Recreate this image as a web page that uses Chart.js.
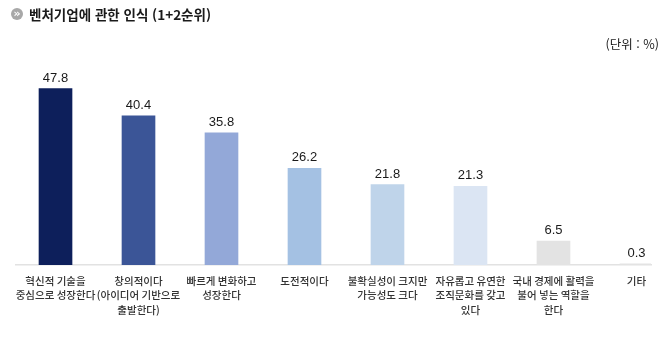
<!DOCTYPE html>
<html lang="ko">
<head>
<meta charset="utf-8">
<title>벤처기업에 관한 인식</title>
<script src="https://cdn.jsdelivr.net/npm/chart.js@4.4.1/dist/chart.umd.min.js"></script>
<style>
  html, body { margin: 0; padding: 0; background: #fff; }
  #wrap { position: relative; width: 670px; height: 337px; overflow: hidden; }
  #title {
    position: absolute; left: 11px; top: 4px;
    font: bold 13.5px "Noto Sans CJK KR", "Liberation Sans", sans-serif;
    color: #1a1a1a; display: flex; align-items: center; white-space: nowrap;
  }
  #title .icon {
    display: inline-block; width: 12px; height: 12px; border-radius: 50%;
    background: #a8a8a8; color: #fff; font: bold 11px "DejaVu Sans", sans-serif;
    line-height: 11px; text-align: center; margin-right: 6px;
  }
  #unit {
    position: absolute; right: 11px; top: 34px;
    font: 12.5px "Noto Sans CJK KR", "Liberation Sans", sans-serif; color: #1a1a1a;
  }
  canvas { position: absolute; left: 0; top: 0; }
</style>
</head>
<body>
<div id="wrap">
  <canvas id="perceptionChart" width="670" height="337"></canvas>
  <div id="title"><span class="icon">»</span>벤처기업에 관한 인식 (1+2순위)</div>
  <div id="unit">(단위 : %)</div>
</div>
<script>
// categories (multi-line labels) and values in %
const categories = [
    ['혁신적 기술을', '중심으로 성장한다'],
    ['창의적이다', '(아이디어 기반으로', '출발한다)'],
    ['빠르게 변화하고', '성장한다'],
    ['도전적이다'],
    ['불확실성이 크지만', '가능성도 크다'],
    ['자유롭고 유연한', '조직문화를 갖고', '있다'],
    ['국내 경제에 활력을', '불어 넣는 역할을', '한다'],
    ['기타']
];
const values = [47.8, 40.4, 35.8, 26.2, 21.8, 21.3, 6.5, 0.3];
const barColors = ['#0d1f5b', '#3b5597', '#93a8d8', '#a4c1e3', '#bfd4ea', '#dbe5f3', '#e3e3e3', '#e3e3e3'];

// draws the value above each bar
const valueLabels = {
    id: 'valueLabels',
    afterDatasetsDraw(chart) {
        const ctx = chart.ctx;
        const meta = chart.getDatasetMeta(0);
        ctx.save();
        ctx.font = '13px "Liberation Sans", Arial, sans-serif';
        ctx.fillStyle = '#1a1a1a';
        ctx.textAlign = 'center';
        ctx.textBaseline = 'alphabetic';
        meta.data.forEach((bar, i) => {
            ctx.fillText(values[i].toFixed(1), bar.x, bar.y - 7);
        });
        ctx.restore();
    }
};

const ctx = document.getElementById('perceptionChart').getContext('2d');
const myChart = new Chart(ctx, {
    type: 'bar',
    data: {
        datasets: [{
            data: values.map((v, i) => ({ x: i, y: v })),
            backgroundColor: barColors,
            borderWidth: 0,
            barThickness: 33
        }]
    },
    options: {
        responsive: false,
        animation: false,
        events: [],
        layout: { padding: { left: 16, right: 19, top: 62, bottom: 0 } },
        plugins: {
            legend: { display: false },
            tooltip: { enabled: false }
        },
        scales: {
            x: {
                type: 'linear',
                offset: false,
                min: -0.476,
                max: 7.175,
                afterBuildTicks: scale => {
                    scale.ticks = categories.map((c, i) => ({ value: i }));
                },
                afterFit: scale => { scale.height = 72; },
                grid: { display: false },
                border: { display: true, color: '#e2e2e2', width: 1.5 },
                ticks: {
                    autoSkip: false,
                    maxRotation: 0,
                    padding: 1,
                    color: '#333333',
                    font: { family: '"Noto Sans CJK KR", "Liberation Sans", sans-serif', size: 10.5, weight: '500', lineHeight: 1.36 },
                    callback: value => categories[value]
                }
            },
            y: {
                display: false,
                min: 0,
                max: 55
            }
        }
    },
    plugins: [valueLabels]
});
</script>
</body>
</html>
